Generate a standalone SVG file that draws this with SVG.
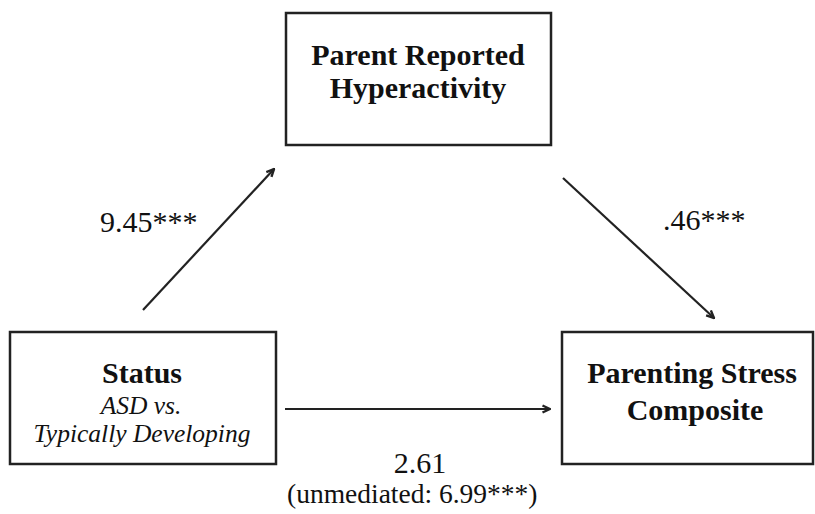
<svg xmlns="http://www.w3.org/2000/svg" width="815" height="514" viewBox="0 0 815 514">
<style>
.box{fill:#fff;stroke:#222;stroke-width:2.5}
.t{font-family:"Liberation Serif","Times New Roman",serif;fill:#111}
.b{font-weight:bold;font-size:30px;text-anchor:middle}
.i{font-style:italic;font-size:25.5px;text-anchor:middle}
.n{font-size:30px}
.c{stroke:#222;stroke-width:2.2;fill:none}
</style>
<defs>
<marker id="ah" viewBox="0 0 10 10" refX="9" refY="5" markerWidth="10" markerHeight="10" markerUnits="userSpaceOnUse" orient="auto">
<path d="M1.5,1.5 L9,5 L1.5,8.5" fill="none" stroke="#222" stroke-width="2.4"/>
</marker>
</defs>
<rect width="815" height="514" fill="#fff"/>
<g id="connectors">
<line class="c" x1="143" y1="310" x2="274" y2="169" marker-end="url(#ah)"/>
<line class="c" x1="563" y1="178" x2="714" y2="318" marker-end="url(#ah)"/>
<line class="c" x1="285" y1="409" x2="550" y2="409" marker-end="url(#ah)"/>
</g>
<g id="hyperactivity">
<rect class="box" x="286" y="13" width="265" height="132"/>
<text class="t b" x="418" y="65">Parent Reported</text>
<text class="t b" x="418" y="98">Hyperactivity</text>
</g>
<g id="status">
<rect class="box" x="10" y="332" width="266" height="132"/>
<text class="t b" x="142" y="383">Status</text>
<text class="t i" x="141" y="414">ASD vs.</text>
<text class="t i" x="142" y="442">Typically Developing</text>
</g>
<g id="stress">
<rect class="box" x="562" y="332" width="251" height="132"/>
<text class="t b" x="692" y="383">Parenting Stress</text>
<text class="t b" x="695" y="420">Composite</text>
</g>
<g id="labels">
<text class="t n" x="100" y="232">9.45***</text>
<text class="t n" x="663" y="230">.46***</text>
<text class="t n" x="420" y="473" text-anchor="middle">2.61</text>
<text class="t" x="287" y="503" font-size="27.5">(unmediated: 6.99***)</text>
</g>
</svg>
